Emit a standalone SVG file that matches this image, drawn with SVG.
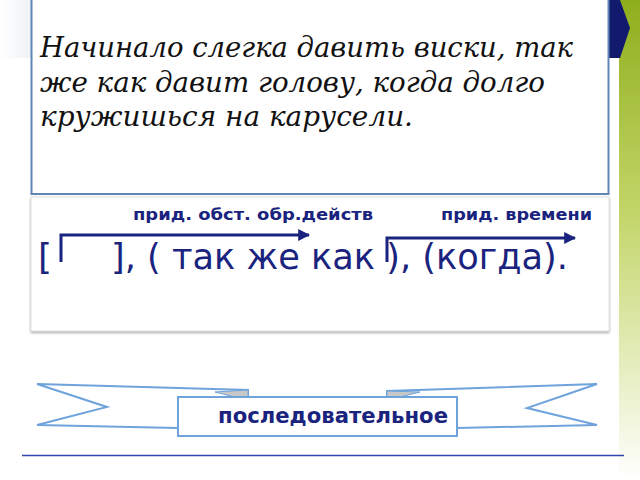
<svg xmlns="http://www.w3.org/2000/svg" width="640" height="480" viewBox="0 0 640 480">
<defs>
<linearGradient id="green" x1="0" y1="0" x2="0" y2="1">
<stop offset="0" stop-color="#8fae1c"/>
<stop offset="0.45" stop-color="#c3d66a"/>
<stop offset="1" stop-color="#ffffff"/>
</linearGradient>
<linearGradient id="fade" x1="0" y1="0" x2="1" y2="0">
<stop offset="0" stop-color="#ffffff"/>
<stop offset="1" stop-color="#eef2f6"/>
</linearGradient>
<marker id="ah" viewBox="0 0 10 10" refX="9" refY="5" markerWidth="4" markerHeight="4" orient="auto" markerUnits="strokeWidth">
<path d="M0,0 L10,5 L0,10 Z" fill="#1a237e"/>
</marker>
<filter id="sh" x="-5%" y="-5%" width="110%" height="115%">
<feDropShadow dx="0" dy="1.5" stdDeviation="0.8" flood-color="#888" flood-opacity="0.7"/>
</filter>
</defs>
<style>
.serif{font-family:"DejaVu Serif","Liberation Serif",serif;font-style:italic;font-size:28px;fill:#111}
.lbl{font-family:"DejaVu Sans","Liberation Sans",sans-serif;font-weight:bold;font-size:16px;fill:#1a237e}
.big{font-family:"DejaVu Sans","Liberation Sans",sans-serif;font-size:36px;fill:#1a237e}
.conn{stroke:#1a237e;stroke-width:3;fill:none}
.rib{stroke:#6fa3dc;stroke-width:2;fill:#fff}
</style>
<rect width="640" height="480" fill="#fff"/>
<rect x="0" y="0" width="32" height="58" fill="url(#fade)"/>
<rect x="619" y="0" width="21" height="480" fill="url(#green)"/>
<polygon points="608,0 620,0 630,28 620,58 608,58" fill="#121a6e"/>

<g id="sentence">
<rect x="31.5" y="-1" width="577" height="195" fill="#fff" stroke="#5f86b5" stroke-width="2"/>
<text class="serif" x="40" y="57" textLength="533" lengthAdjust="spacingAndGlyphs">Начинало слегка давить виски, так</text>
<text class="serif" x="40" y="92" textLength="505" lengthAdjust="spacingAndGlyphs">же как давит голову, когда долго</text>
<text class="serif" x="40" y="126" textLength="373" lengthAdjust="spacingAndGlyphs">кружишься на карусели.</text>
</g>

<g id="scheme">
<rect x="31" y="197" width="578" height="134" fill="#fff" stroke="#e2e2e2" stroke-width="1" filter="url(#sh)"/>
<text class="lbl" x="133" y="220" textLength="240" lengthAdjust="spacingAndGlyphs">прид. обст. обр.действ</text>
<text class="lbl" x="441" y="220" textLength="151" lengthAdjust="spacingAndGlyphs">прид. времени</text>
<text class="big" x="38" y="269">[</text>
<text class="big" x="111" y="269" textLength="457" lengthAdjust="spacingAndGlyphs">], ( так же как ), (когда).</text>
</g>

<g id="connectors">
<path class="conn" d="M61,262 V235 H309" marker-end="url(#ah)"/>
<path class="conn" d="M387,262 V238 H575" marker-end="url(#ah)"/>
</g>

<g id="banner">
<polygon class="rib" points="37,384 248,390 248,428 178,428 37,425 107,407"/>
<polygon class="rib" points="597,384 387,391 387,428 457,428 597,425 527,408"/>
<polygon points="215,392 248,390 248,397 235,397" fill="#c8c8c8" stroke="#6fa3dc" stroke-width="1"/>
<polygon points="387,391 420,392 400,397 387,397" fill="#c8c8c8" stroke="#6fa3dc" stroke-width="1"/>
<rect x="178" y="397" width="279" height="39" fill="#fff" stroke="#6fa3dc" stroke-width="2"/>
<text class="lbl" x="218" y="423" style="font-size:21px" textLength="230" lengthAdjust="spacingAndGlyphs">последовательное</text>
</g>

<line x1="22" y1="455.5" x2="624" y2="455.5" stroke="#3344aa" stroke-width="1.5"/>
</svg>
